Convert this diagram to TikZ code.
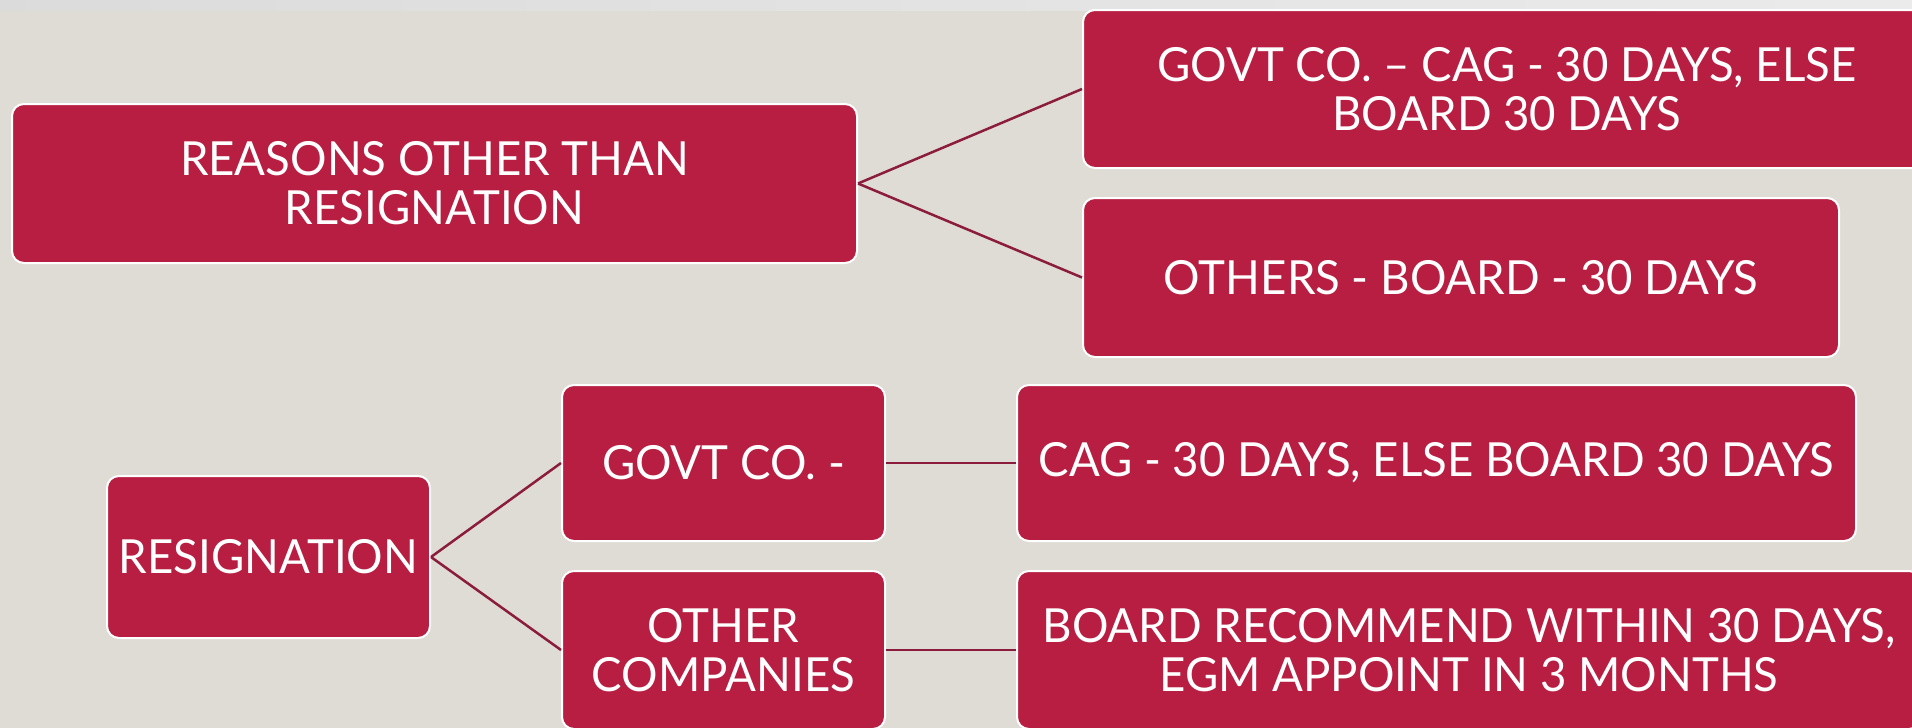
\documentclass[tikz,border=0pt]{standalone}
\usepackage{fontspec}
\setmainfont[FakeStretch=0.97]{Lato}

\begin{document}
\begin{tikzpicture}[x=0.5pt,y=-0.5pt,
    box/.style={draw=white,line width=1pt,fill=crimson,rounded corners=6pt,
      text=white,align=center,inner sep=0pt,font=\fontsize{23.5}{24.5}\selectfont},
    link/.style={draw=wine,line width=1.25pt}]
  \definecolor{crimson}{HTML}{B71E42}
  \definecolor{wine}{HTML}{8C1C3C}
  \definecolor{paper}{HTML}{DFDCD5}

  % page
  \clip (0,0) rectangle (1912,728);
  \fill[paper] (0,0) rectangle (1912,728);
  \shade[left color=black!14, right color=black!8] (0,0) rectangle (1912,10);

  % reasons other than resignation
  \node[box,minimum width=422.5pt,minimum height=79.5pt] (other) at (434.5,183.5)
    {REASONS OTHER THAN\\RESIGNATION};
  \node[box,minimum width=424pt,minimum height=79pt] (govtA) at (1507,89)
    {GOVT CO. -- CAG - 30 DAYS, ELSE\\BOARD 30 DAYS};
  \node[box,minimum width=378pt,minimum height=79.5pt] (othersA) at (1461,277.5)
    {OTHERS - BOARD - 30 DAYS};

  % resignation
  \node[box,minimum width=161.5pt,minimum height=81pt] (resign) at (268.5,557)
    {RESIGNATION};
  \node[box,minimum width=161.5pt,minimum height=78pt] (govtB) at (723.5,463)
    {GOVT CO. -};
  \node[box,minimum width=161.5pt,minimum height=79pt] (othersB) at (723.5,650)
    {OTHER\\COMPANIES};
  \node[box,minimum width=419.5pt,minimum height=78pt] (cag) at (1436.5,463)
    {CAG - 30 DAYS, ELSE BOARD 30 DAYS};
  \node[box,minimum width=452pt,minimum height=79pt] (egm) at (1469,650)
    {BOARD RECOMMEND WITHIN 30 DAYS,\\EGM APPOINT IN 3 MONTHS};

  % connectors
  \draw[link] (other.east) -- (govtA.west);
  \draw[link] (other.east) -- (othersA.west);
  \draw[link] (resign.east) -- (govtB.west);
  \draw[link] (resign.east) -- (othersB.west);
  \draw[link] (govtB.east) -- (cag.west);
  \draw[link] (othersB.east) -- (egm.west);
\end{tikzpicture}
\end{document}
